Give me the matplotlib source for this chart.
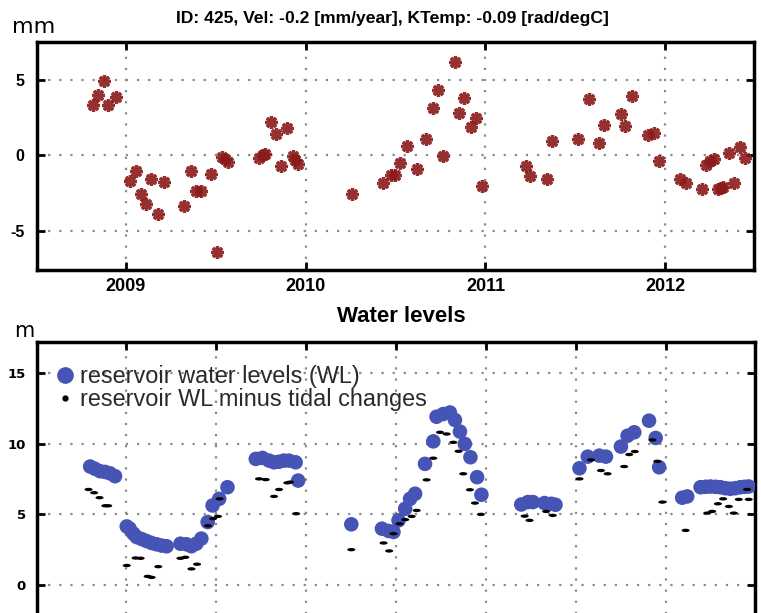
import matplotlib
matplotlib.use('Agg')
import matplotlib.pyplot as plt
from matplotlib.lines import Line2D
import numpy as np

plt.rcParams['axes.unicode_minus'] = False

# displacement time series (decimal year, mm)
disp_t = [2008.819, 2008.849, 2008.878, 2008.902, 2008.945,
          2009.022, 2009.059, 2009.087, 2009.114, 2009.142, 2009.178, 2009.212,
          2009.326, 2009.361, 2009.394, 2009.418, 2009.477, 2009.510,
          2009.534, 2009.552, 2009.571,
          2009.744, 2009.762, 2009.777,
          2009.807, 2009.836, 2009.864, 2009.899,
          2009.928, 2009.944, 2009.956,
          2010.261,
          2010.431, 2010.477, 2010.499, 2010.523, 2010.565, 2010.619, 2010.672, 2010.707,
          2010.735, 2010.766, 2010.830, 2010.851, 2010.880, 2010.919, 2010.946, 2010.980,
          2011.223, 2011.250, 2011.343, 2011.370, 2011.512, 2011.576, 2011.630, 2011.659,
          2011.751, 2011.777, 2011.816, 2011.904, 2011.935, 2011.965,
          2012.079, 2012.112, 2012.203, 2012.227, 2012.250, 2012.267, 2012.291, 2012.308,
          2012.319, 2012.355, 2012.383, 2012.416, 2012.442]
disp_mm = [3.31, 4.02, 4.90, 3.31, 3.86,
           -1.68, -1.04, -2.54, -3.20, -1.59, -3.86, -1.79,
           -3.36, -1.04, -2.36, -2.36, -1.26, -6.42,
           -0.11, -0.22, -0.48,
           -0.15, 0.00, 0.07,
           2.17, 1.44, -0.71, 1.83,
           -0.07, -0.33, -0.60,
           -2.54,
           -1.87, -1.32, -1.28, -0.51, 0.60, -0.93, 1.06, 3.13,
           4.30, -0.05, 6.18, 2.80, 3.79, 1.87, 2.47, -2.03,
           -0.71, -1.37, -1.59, 0.95, 1.06, 3.75, 0.84, 2.03,
           2.70, 1.92, 3.91, 1.37, 1.48, -0.40,
           -1.59, -1.87, -2.25, -0.62, -0.40, -0.28, -2.25, -2.15,
           -2.10, 0.18, -1.81, 0.55, -0.18]

# reservoir water levels (m)
wl_t = [2008.803, 2008.830, 2008.858, 2008.886, 2008.913, 2008.941,
        2009.006, 2009.022, 2009.043, 2009.061, 2009.088, 2009.116, 2009.144, 2009.171,
        2009.199, 2009.227,
        2009.304, 2009.337, 2009.365, 2009.392, 2009.420, 2009.455, 2009.482, 2009.519,
        2009.565,
        2009.722, 2009.759, 2009.796, 2009.823, 2009.850, 2009.878, 2009.906, 2009.943,
        2009.957,
        2010.252,
        2010.422, 2010.459, 2010.486, 2010.514, 2010.551, 2010.578, 2010.606, 2010.661,
        2010.707, 2010.725, 2010.762, 2010.799, 2010.827, 2010.855, 2010.882, 2010.913,
        2010.950, 2010.974,
        2011.195, 2011.232, 2011.260, 2011.324, 2011.361, 2011.385,
        2011.518, 2011.564, 2011.628, 2011.665, 2011.748, 2011.785, 2011.822, 2011.904,
        2011.941, 2011.960,
        2012.088, 2012.116, 2012.190, 2012.218, 2012.245, 2012.273, 2012.300, 2012.328,
        2012.355, 2012.383, 2012.410, 2012.435, 2012.457]
wl_m = [8.38, 8.22, 8.05, 8.00, 7.90, 7.70,
        4.15, 4.00, 3.64, 3.40, 3.26, 3.12, 2.98, 2.89,
        2.80, 2.75,
        2.93, 2.89, 2.75, 2.93, 3.29, 4.46, 5.63, 6.10,
        6.92,
        8.92, 8.99, 8.80, 8.68, 8.72, 8.80, 8.80, 8.68,
        7.39,
        4.30,
        3.99, 3.83, 3.76, 4.58, 5.40, 6.10, 6.46, 8.57,
        10.16, 11.90, 12.09, 12.20, 11.67, 10.85, 9.98, 9.04,
        7.63, 6.39,
        5.70, 5.87, 5.87, 5.80, 5.75, 5.68,
        8.26, 9.08, 9.15, 9.08, 9.79, 10.56, 10.80, 11.62,
        10.40, 8.33,
        6.18, 6.27, 6.92, 6.95, 6.97, 6.95, 6.92, 6.85,
        6.81, 6.85, 6.92, 6.95, 6.97]

# water levels with the tidal component removed (m)
tc_t = [2008.794, 2008.825, 2008.855, 2008.887, 2008.903,
        2009.006, 2009.055, 2009.083, 2009.122, 2009.144, 2009.181,
        2009.304, 2009.331, 2009.365, 2009.396, 2009.457, 2009.485, 2009.512, 2009.521,
        2009.740, 2009.777, 2009.823, 2009.851, 2009.897, 2009.912, 2009.946,
        2010.252,
        2010.431, 2010.462, 2010.486, 2010.519, 2010.551, 2010.587, 2010.615, 2010.670,
        2010.707, 2010.744, 2010.781, 2010.818, 2010.847, 2010.873, 2010.910, 2010.938,
        2010.971,
        2011.214, 2011.241, 2011.333, 2011.370,
        2011.518, 2011.582, 2011.637, 2011.674, 2011.766, 2011.794, 2011.825, 2011.923,
        2011.950, 2011.978,
        2012.107, 2012.227, 2012.254, 2012.286, 2012.315, 2012.347, 2012.374, 2012.402,
        2012.448, 2012.457]
tc_m = [6.76, 6.53, 6.18, 5.61, 5.61,
        1.39, 1.92, 1.90, 0.62, 0.55, 1.31,
        1.90, 1.97, 1.15, 1.48, 4.20, 4.70, 4.86, 6.10,
        7.51, 7.46, 6.27, 6.76, 7.23, 7.28, 5.05,
        2.51,
        2.98, 2.42, 3.64, 4.34, 4.63, 4.86, 5.28, 7.44,
        8.97, 10.80, 10.68, 10.09, 9.46, 7.87, 6.74, 5.80,
        5.00,
        4.88, 4.58, 5.21, 4.93,
        7.51, 8.85, 8.10, 7.87, 8.38, 9.23, 9.44, 10.26,
        8.75, 5.87,
        3.87, 5.09, 5.21, 5.75, 6.10, 5.56, 5.09, 6.06,
        6.76, 6.06]

year_ticks = [2009, 2010, 2011, 2012]
half_year_ticks = [2009, 2009.5, 2010, 2010.5, 2011, 2011.5, 2012]

W, H = 761, 613
fig = plt.figure(figsize=(W / 100, H / 100), dpi=100)

grid_kw = dict(color='#8a8a8a', linestyle=(0, (1, 4)), linewidth=1.6)
star_col = '#8b1a1a'
blue = '#4654b5'

def style_axes(ax):
    for s in ax.spines.values():
        s.set_linewidth(2.5)
    ax.tick_params(direction='in', length=6, width=2, top=True, right=True)
    ax.set_axisbelow(True)

# displacement panel
ax1 = fig.add_axes([37 / W, 1 - 270 / H, 717 / W, 228 / H])
style_axes(ax1)
ax1.plot(disp_t, disp_mm, linestyle='none', marker=(8, 2, 0), markersize=9,
         markeredgewidth=2.4, color=star_col, alpha=0.9)
ax1.set_xlim(2008.508, 2012.492)
ax1.set_ylim(-7.6, 7.5)
ax1.set_xticks(year_ticks)
ax1.set_yticks([-5, 0, 5])
ax1.grid(True, **grid_kw)
ax1.tick_params(axis='x', pad=6)
ax1.tick_params(axis='y', pad=9)
for lab in ax1.get_xticklabels():
    lab.set_fontfamily('Liberation Sans')
    lab.set_fontweight('bold')
    lab.set_fontsize(13)
for lab in ax1.get_yticklabels():
    lab.set_fontfamily('Liberation Sans')
    lab.set_fontweight('bold')
    lab.set_fontsize(11.5)

fig.text(392 / W, 1 - 18 / H, 'ID: 425, Vel: -0.2 [mm/year], KTemp: -0.09 [rad/degC]',
         ha='center', va='center', fontsize=12.6, fontweight='bold', family='Liberation Sans')
fig.text(12 / W, 1 - 33 / H, 'mm', ha='left', va='baseline', fontsize=16)

# water level panel (bottom part runs past the figure edge)
ax2 = fig.add_axes([37 / W, 1 - 641.8 / H, 718 / W, 300.1 / H])
style_axes(ax2)
ax2.scatter(wl_t, wl_m, s=110, color=blue, edgecolors='none', zorder=3)
dash = [(np.cos(a) * 2.4, np.sin(a)) for a in np.linspace(0, 2 * np.pi, 30)]
ax2.scatter(tc_t, tc_m, s=34, marker=dash, color='black', edgecolors='none', zorder=4)
ax2.set_xlim(2008.508, 2012.492)
ax2.set_ylim(-4, 17.2)
ax2.set_xticks(half_year_ticks)
ax2.set_yticks([0, 5, 10, 15])
ax2.grid(True, **grid_kw)
ax2.tick_params(axis='y', pad=8)
ax2.set_xticklabels([])
for lab in ax2.get_yticklabels():
    lab.set_fontweight('bold')
    lab.set_fontsize(9.5)

handles = [Line2D([], [], linestyle='none', marker='o', markersize=11, color=blue),
           Line2D([], [], linestyle='none', marker='o', markersize=3.5, color='black')]
leg = ax2.legend(handles, ['reservoir water levels (WL)', 'reservoir WL minus tidal changes'],
                 loc='upper left', bbox_to_anchor=(0.0, 0.985), frameon=False,
                 prop={'family': 'Liberation Sans', 'size': 16.9},
                 handlelength=0.8, handletextpad=0.25, borderaxespad=0.4, labelspacing=0.02)
for t in leg.get_texts():
    t.set_color('#2a2a2a')

fig.text(401 / W, 1 - 316 / H, 'Water levels', ha='center', va='center',
         fontsize=16, fontweight='bold', family='Liberation Sans')
fig.text(14 / W, 1 - 337 / H, 'm', ha='left', va='baseline', fontsize=15)

fig.savefig('out.png', dpi=100)
